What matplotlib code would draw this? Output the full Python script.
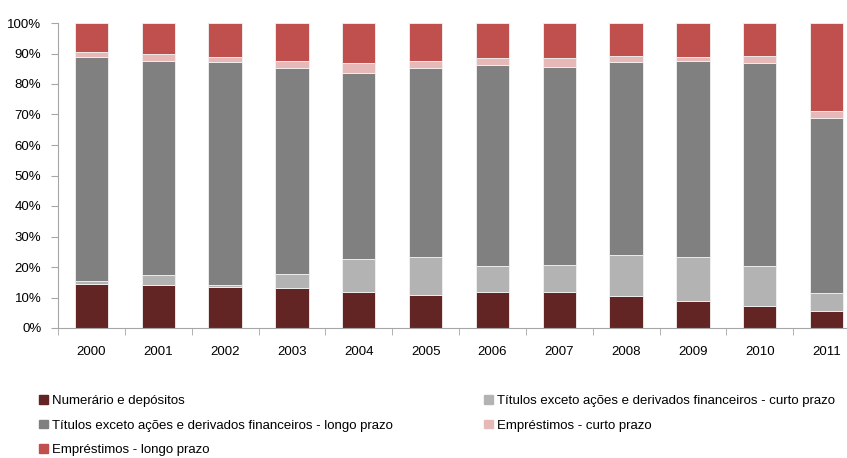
import matplotlib.pyplot as plt
from matplotlib.patches import Patch
import numpy as np

plt.rcParams['font.family'] = ['Liberation Sans', 'DejaVu Sans']

years = ['2000', '2001', '2002', '2003', '2004', '2005',
         '2006', '2007', '2008', '2009', '2010', '2011']

# cumulative tops (%)
top_numerario = [14.4, 14.0, 13.4, 13.0, 11.7, 10.7, 11.7, 11.7, 10.4, 8.7, 7.1, 5.5]
top_tit_curto = [15.5, 17.5, 14.2, 17.8, 22.7, 23.4, 20.3, 20.8, 24.0, 23.4, 20.3, 11.6]
top_tit_longo = [88.7, 87.7, 87.1, 85.4, 83.5, 85.1, 86.1, 85.5, 87.1, 87.4, 86.8, 68.7]
top_emp_curto = [90.5, 89.8, 88.9, 87.5, 87.0, 87.5, 88.5, 88.5, 89.2, 88.9, 89.2, 71.3]

tops = np.array([top_numerario, top_tit_curto, top_tit_longo, top_emp_curto,
                 [100.0] * 12])
values = np.diff(np.vstack([np.zeros(12), tops]), axis=0)

labels = ['Numerário e depósitos',
          'Títulos exceto ações e derivados financeiros - curto prazo',
          'Títulos exceto ações e derivados financeiros - longo prazo',
          'Empréstimos - curto prazo',
          'Empréstimos - longo prazo']
colors = ['#632523', '#b3b3b3', '#808080', '#e6b9b8', '#c0504d']

fig = plt.figure(figsize=(8.47, 4.58), dpi=100)
ax = fig.add_axes([58 / 847, 130 / 458, 802 / 847, 305 / 458])

x = np.arange(len(years))
bottom = np.zeros(len(years))
for vals, col, lab in zip(values, colors, labels):
    ax.bar(x, vals, 0.5, bottom=bottom, color=col, label=lab,
           edgecolor='#f2f2f2', linewidth=0.6)
    bottom += vals

ax.set_xlim(-0.5, len(years) - 0.5)
ax.set_ylim(0, 100)
ax.set_yticks(np.arange(0, 101, 10))
ax.set_yticklabels([f'{v}%' for v in range(0, 101, 10)], fontsize=9.5)
ax.set_xticks(x)
ax.set_xticklabels(years, fontsize=9.5)
ax.set_xticks(np.arange(-0.5, len(years), 1), minor=True)
ax.tick_params(axis='x', which='major', length=0, pad=13)
ax.tick_params(axis='x', which='minor', length=5, color='#a6a6a6')
ax.tick_params(axis='y', length=5, color='#a6a6a6', pad=7)
for s in ['top', 'right']:
    ax.spines[s].set_visible(False)
for s in ['left', 'bottom']:
    ax.spines[s].set_color('#a6a6a6')

handles = [Patch(color=c) for c in colors]
kw = dict(frameon=False, fontsize=9.5, handlelength=0.65, handleheight=0.65,
          handletextpad=0.3, labelspacing=0.95, borderpad=0, borderaxespad=0)
fig.legend([handles[0], handles[2], handles[4]],
           [labels[0], labels[2], labels[4]],
           loc='upper left', bbox_to_anchor=(39 / 847, 1 - 395 / 458), **kw)
fig.legend([handles[1], handles[3]], [labels[1], labels[3]],
           loc='upper left', bbox_to_anchor=(484 / 847, 1 - 395 / 458), **kw)

fig.savefig('out.png', dpi=100)
